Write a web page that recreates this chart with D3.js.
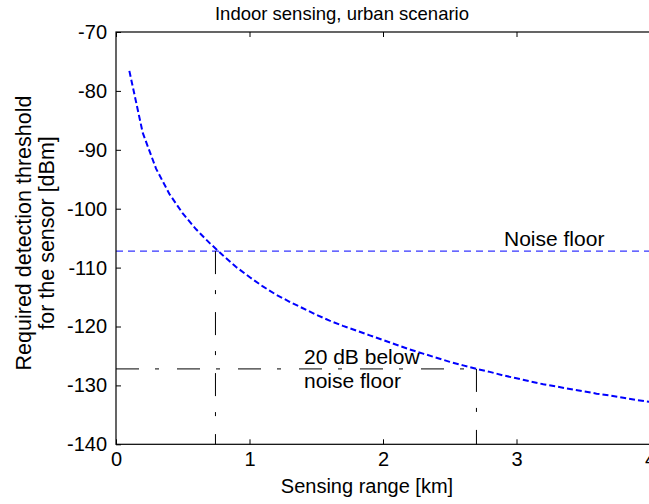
<!DOCTYPE html>
<html>
<head>
<meta charset="utf-8">
<script src="https://cdn.jsdelivr.net/npm/d3@7"></script>
<style>
  body { margin: 0; background: #fff; }
  text { font-family: "Liberation Sans", Arial, sans-serif; fill: #000; }
</style>
</head>
<body>
<div id="chart"></div>
<script>
// sensing range [km] and required threshold [dBm]
const rangeKm = [0.1, 0.2, 0.3, 0.4, 0.5, 0.6, 0.7, 0.8, 0.9, 1.0,
  1.1, 1.2, 1.3, 1.4, 1.5, 1.6, 1.7, 1.8, 1.9, 2.0,
  2.1, 2.2, 2.3, 2.4, 2.5, 2.6, 2.7, 2.8, 2.9, 3.0,
  3.1, 3.2, 3.3, 3.4, 3.5, 3.6, 3.7, 3.8, 3.9, 4.0];
const thresholdDbm = [-76.6, -87.1, -93.2, -97.5, -100.8, -103.5, -105.8, -107.9, -109.9, -111.6,
  -113.2, -114.6, -115.8, -116.9, -118.0, -119.0, -119.9, -120.7, -121.5, -122.3,
  -123.1, -123.9, -124.6, -125.3, -126.0, -126.6, -127.2, -127.7, -128.3, -128.8,
  -129.3, -129.8, -130.2, -130.6, -131.0, -131.4, -131.7, -132.1, -132.5, -132.8];

const noiseFloor = -107.2;
const belowNoise = -127.2;
const crossKm = [0.745, 2.7];

const xTicks = [0, 1, 2, 3, 4];
const yTicks = [-70, -80, -90, -100, -110, -120, -130, -140];

const width = 649, height = 504;
const margin = { top: 32, right: -1, bottom: 60, left: 116 };

const svg = d3.select('#chart').append('svg')
  .attr('width', width)
  .attr('height', height);

const x = d3.scaleLinear().domain([0, 4]).range([margin.left, width - margin.right]);
const y = d3.scaleLinear().domain([-140, -70]).range([height - margin.bottom + 0.3, margin.top]);

// reference lines
svg.append('line')
  .attr('x1', x(0)).attr('x2', x(4))
  .attr('y1', y(noiseFloor)).attr('y2', y(noiseFloor))
  .attr('stroke', '#0000ff').attr('stroke-width', 1)
  .attr('stroke-dasharray', '7,5');

svg.append('line')
  .attr('x1', x(0)).attr('x2', x(crossKm[1]))
  .attr('y1', y(belowNoise)).attr('y2', y(belowNoise))
  .attr('stroke', '#000').attr('stroke-width', 1)
  .attr('stroke-dasharray', '23,16,4,18');

svg.append('line')
  .attr('x1', x(crossKm[0])).attr('x2', x(crossKm[0]))
  .attr('y1', y(noiseFloor)).attr('y2', y(-140))
  .attr('stroke', '#000').attr('stroke-width', 1)
  .attr('stroke-dasharray', '23,16,4,18');

svg.append('line')
  .attr('x1', x(crossKm[1])).attr('x2', x(crossKm[1]))
  .attr('y1', y(belowNoise)).attr('y2', y(-140))
  .attr('stroke', '#000').attr('stroke-width', 1)
  .attr('stroke-dasharray', '23,16,4,18');

// curve
const line = d3.line()
  .x((d, i) => x(rangeKm[i]))
  .y(d => y(d));

svg.append('path')
  .datum(thresholdDbm)
  .attr('fill', 'none')
  .attr('stroke', '#0000ff')
  .attr('stroke-width', 2)
  .attr('stroke-dasharray', '6,3')
  .attr('d', line);

// axes box, ticks inside
const x0 = x(0), x1 = x(4), y0 = y(-140), y1 = y(-70);
svg.append('rect')
  .attr('x', x0).attr('y', y1)
  .attr('width', x1 - x0).attr('height', y0 - y1)
  .attr('fill', 'none').attr('stroke', '#000').attr('stroke-width', 1.2);

const fmt = d => String(d);

const xAxis = d3.axisBottom(x).tickValues(xTicks).tickFormat(fmt)
  .tickSizeInner(-5).tickSizeOuter(0).tickPadding(8);
const gx = svg.append('g').attr('transform', `translate(0,${y0})`).call(xAxis);
gx.select('.domain').remove();
gx.selectAll('text').attr('font-size', 20).attr('font-family', '"Liberation Sans", Arial, sans-serif');

const xTop = d3.axisTop(x).tickValues(xTicks).tickSizeInner(-5).tickSizeOuter(0).tickFormat('');
svg.append('g').attr('transform', `translate(0,${y1})`).call(xTop).select('.domain').remove();

const yAxis = d3.axisLeft(y).tickValues(yTicks).tickFormat(fmt)
  .tickSizeInner(-5).tickSizeOuter(0).tickPadding(9);
const gy = svg.append('g').attr('transform', `translate(${x0},0)`).call(yAxis);
gy.select('.domain').remove();
gy.selectAll('text').attr('font-size', 20).attr('font-family', '"Liberation Sans", Arial, sans-serif');

// titles
svg.append('text')
  .attr('x', 342).attr('y', 20)
  .attr('text-anchor', 'middle')
  .attr('font-size', 18.5)
  .text('Indoor sensing, urban scenario');

svg.append('text')
  .attr('x', 367).attr('y', 493)
  .attr('text-anchor', 'middle')
  .attr('font-size', 20)
  .text('Sensing range [km]');

const yl = svg.append('text')
  .attr('transform', 'translate(31,233) rotate(-90)')
  .attr('text-anchor', 'middle')
  .attr('font-size', 21.5);
yl.append('tspan').attr('x', 0).attr('dy', 0).text('Required detection threshold');
yl.append('tspan').attr('x', 0).attr('dy', 23).text('for the sensor [dBm]');

// annotations
svg.append('text')
  .attr('x', 504).attr('y', 246)
  .attr('font-size', 21)
  .text('Noise floor');

svg.append('text')
  .attr('x', 304).attr('y', 364)
  .attr('font-size', 21)
  .text('20 dB below');

svg.append('text')
  .attr('x', 304).attr('y', 388)
  .attr('font-size', 21)
  .text('noise floor');
</script>
</body>
</html>
